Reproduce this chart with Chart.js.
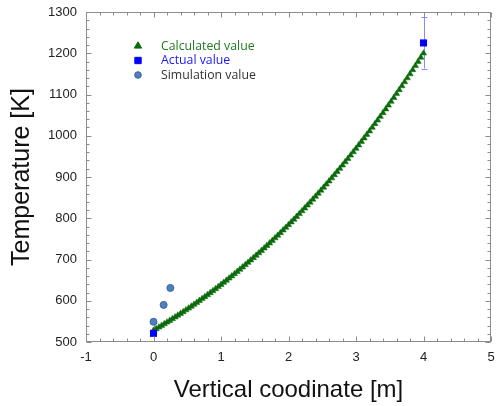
<!DOCTYPE html>
<html><head><meta charset="utf-8">
<script src="https://cdn.jsdelivr.net/npm/chart.js@4/dist/chart.umd.min.js"></script>
<style>html,body{margin:0;padding:0;background:#fff}#wrap{width:496px;height:406px}</style>
</head><body><div id="wrap"><canvas id="c" width="496" height="406"></canvas></div>
<script>
const xTicks=[-1,0,1,2,3,4,5];
const yTicks=[500,600,700,800,900,1000,1100,1200,1300];
const seriesNames=['Calculated value','Actual value','Simulation value'];
const calcX=[0,0.04,0.08,0.12,0.16,0.2,0.24,0.28,0.32,0.36,0.4,0.44,0.48,0.52,0.56,0.6,0.64,0.68,0.72,0.76,0.8,0.84,0.88,0.92,0.96,1,1.04,1.08,1.12,1.16,1.2,1.24,1.28,1.32,1.36,1.4,1.44,1.48,1.52,1.56,1.6,1.64,1.68,1.72,1.76,1.8,1.84,1.88,1.92,1.96,2,2.04,2.08,2.12,2.16,2.2,2.24,2.28,2.32,2.36,2.4,2.44,2.48,2.52,2.56,2.6,2.64,2.68,2.72,2.76,2.8,2.84,2.88,2.92,2.96,3,3.04,3.08,3.12,3.16,3.2,3.24,3.28,3.32,3.36,3.4,3.44,3.48,3.52,3.56,3.6,3.64,3.68,3.72,3.76,3.8,3.84,3.88,3.92,3.96,4];
const calcT=[528.0,531.9,535.8,539.7,543.7,547.8,551.9,556.0,560.2,564.4,568.7,573.0,577.4,581.8,586.3,590.9,595.4,600.1,604.8,609.5,614.3,619.1,624.0,628.9,633.9,639.0,644.1,649.3,654.5,659.8,665.1,670.5,675.9,681.4,687.0,692.6,698.3,704.0,709.8,715.6,721.5,727.5,733.5,739.6,745.8,752.0,758.3,764.6,771.0,777.5,784.0,790.6,797.2,804.0,810.8,817.6,824.5,831.5,838.6,845.7,852.9,860.1,867.4,874.8,882.3,889.8,897.4,905.1,912.8,920.6,928.5,936.5,944.5,952.6,960.8,969.0,977.3,985.7,994.2,1002.7,1011.3,1020.0,1028.8,1037.6,1046.5,1055.5,1064.6,1073.8,1083.0,1092.3,1101.7,1111.2,1120.7,1130.3,1140.0,1149.8,1159.7,1169.7,1179.7,1189.8,1200.0];
const actualX=[0,4];
const actualT=[521,1225];
const actualErr=[26,62];
const simX=[0,0.15,0.25];
const simT=[549,590,631];

const GREEN='#0b6b0b', BLUE='#0000ff', SIMF='#4f7fbd', SIMB='#3a659c';

function pts(xs,ys){return xs.map((x,i)=>({x:x,y:ys[i]}));}

function marker(ctx,style,x,y,r,fill,stroke){
  ctx.save();ctx.fillStyle=fill;ctx.strokeStyle=stroke;ctx.lineWidth=1;ctx.beginPath();
  if(style==='triangle'){ctx.moveTo(x,y-r);ctx.lineTo(x+r*0.866,y+r*0.5);ctx.lineTo(x-r*0.866,y+r*0.5);ctx.closePath();}
  else if(style==='rect'){const s=r*Math.SQRT1_2;ctx.rect(x-s,y-s,2*s,2*s);}
  else {ctx.arc(x,y,r,0,Math.PI*2);}
  ctx.fill();ctx.stroke();ctx.restore();
}

const framePlugin={id:'frame',
  beforeDatasetsDraw(ch){
    const ctx=ch.ctx,a=ch.chartArea,xs=ch.scales.x,ys=ch.scales.y;
    ctx.save();ctx.beginPath();ctx.rect(a.left,a.top,a.right-a.left,a.bottom-a.top);ctx.clip();
    ctx.strokeStyle='#8a8aff';ctx.lineWidth=1;
    actualX.forEach((xv,i)=>{
      const px=Math.round(xs.getPixelForValue(xv))+0.5;
      const t=ys.getPixelForValue(actualT[i]+actualErr[i]);
      const b=ys.getPixelForValue(actualT[i]-actualErr[i]);
      ctx.beginPath();ctx.moveTo(px,t);ctx.lineTo(px,b);
      ctx.moveTo(px-3,Math.round(t)+0.5);ctx.lineTo(px+3,Math.round(t)+0.5);
      ctx.moveTo(px-3,Math.round(b)+0.5);ctx.lineTo(px+3,Math.round(b)+0.5);
      ctx.stroke();
    });
    ctx.restore();
  },
  afterDraw(ch){
    const ctx=ch.ctx,a=ch.chartArea,xs=ch.scales.x,ys=ch.scales.y;
    ctx.save();
    ctx.strokeStyle='#8c8c8c';ctx.lineWidth=1;
    const L=Math.round(a.left)+0.5,R=Math.round(a.right)-0.5,T=Math.round(a.top)+0.5,B=Math.round(a.bottom)-0.5;
    ctx.strokeRect(L,T,R-L,B-T);
    ctx.beginPath();
    for(let v=xTicks[0];v<=xTicks[xTicks.length-1]+1e-9;v+=0.2){
      const major=Math.abs(v-Math.round(v))<1e-6;const len=major?5:3;
      const px=Math.round(xs.getPixelForValue(v))+0.5;
      ctx.moveTo(px,B);ctx.lineTo(px,B-len);ctx.moveTo(px,T);ctx.lineTo(px,T+len);
    }
    for(let v=yTicks[0];v<=yTicks[yTicks.length-1]+1e-9;v+=20){
      const major=(Math.round(v)%100)===0;const len=major?5:3;
      const py=Math.round(ys.getPixelForValue(v))+0.5;
      ctx.moveTo(L,py);ctx.lineTo(L+len,py);ctx.moveTo(R,py);ctx.lineTo(R-len,py);
    }
    ctx.stroke();
    const items=[
      {style:'triangle',r:4.2,fill:GREEN,stroke:GREEN,color:'#1f7a1f'},
      {style:'rect',r:4.5,fill:BLUE,stroke:BLUE,color:'#1a1aee'},
      {style:'circle',r:3.3,fill:SIMF,stroke:SIMB,color:'#333333'}
    ];
    const rowsY=[46,60.5,75];
    ctx.font='12.3px "Open Sans", sans-serif';ctx.textBaseline='middle';ctx.textAlign='left';
    items.forEach((it,i)=>{
      marker(ctx,it.style,138,rowsY[i],it.r,it.fill,it.stroke);
      ctx.fillStyle=it.color;ctx.fillText(seriesNames[i],161,rowsY[i]);
    });
    ctx.restore();
  }
};

const tickFont={family:'"Liberation Sans", Arial, sans-serif',size:13};
new Chart(document.getElementById('c'),{
  type:'scatter',
  data:{datasets:[
    {label:seriesNames[1],data:pts(actualX,actualT),pointStyle:'rect',pointRadius:5,backgroundColor:BLUE,borderColor:BLUE,borderWidth:0},
    {label:seriesNames[2],data:pts(simX,simT),pointStyle:'circle',pointRadius:3.5,backgroundColor:SIMF,borderColor:SIMB,borderWidth:1},
    {label:seriesNames[0],data:pts(calcX,calcT),pointStyle:'triangle',pointRadius:3.6,backgroundColor:GREEN,borderColor:GREEN,borderWidth:0.5}
  ]},
  options:{
    responsive:false,devicePixelRatio:1,animation:false,
    layout:{padding:{top:12,right:3,left:0,bottom:0}},
    plugins:{legend:{display:false},tooltip:{enabled:false}},
    scales:{
      x:{type:'linear',min:xTicks[0],max:xTicks[xTicks.length-1],
        afterBuildTicks:s=>{s.ticks=xTicks.map(v=>({value:v}));},
        afterFit:s=>{s.height=64;s.paddingLeft=0;s.paddingRight=0;},
        grid:{display:false,drawTicks:false},border:{display:false},
        ticks:{padding:8,color:'#222',font:tickFont,maxRotation:0,autoSkip:false,callback:v=>String(v)},
        title:{display:true,text:'Vertical coodinate [m]',color:'#111',font:{family:'"Liberation Sans", Arial, sans-serif',size:24},padding:{top:0,bottom:1}}
      },
      y:{type:'linear',min:yTicks[0],max:yTicks[yTicks.length-1],
        afterBuildTicks:s=>{s.ticks=yTicks.map(v=>({value:v}));},
        afterFit:s=>{s.width=86;s.paddingTop=0;s.paddingBottom=0;},
        grid:{display:false,drawTicks:false},border:{display:false},
        ticks:{padding:9,color:'#222',font:tickFont,autoSkip:false,callback:v=>String(v)},
        title:{display:true,text:'Temperature [K]',color:'#111',font:{family:'"Liberation Sans", Arial, sans-serif',size:25},padding:{top:7,bottom:0}}
      }
    }
  },
  plugins:[framePlugin]
});
</script></body></html>
